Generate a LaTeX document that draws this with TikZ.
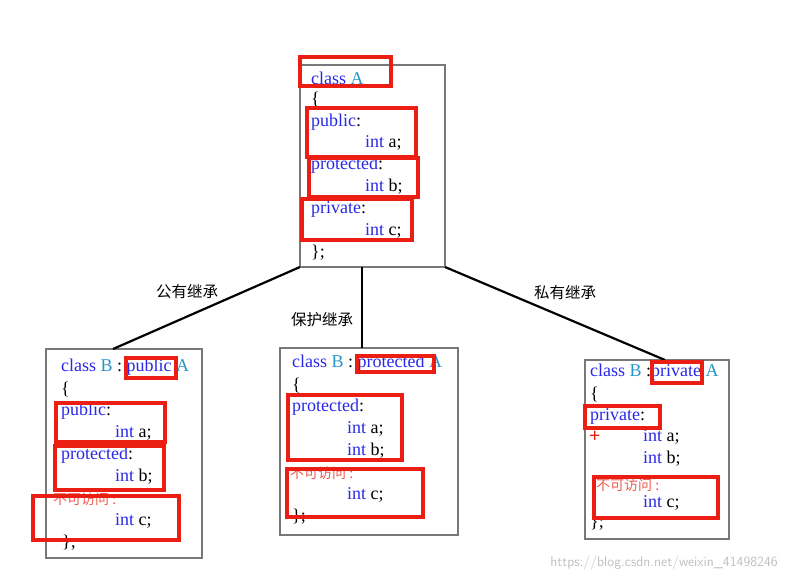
\documentclass[tikz,border=0pt]{standalone}
\usepackage{fontspec}
\setmainfont{Liberation Serif}
\newfontfamily\cjk{Noto Sans CJK SC}
\definecolor{kw}{RGB}{40,40,230}
\definecolor{tl}{RGB}{40,150,200}
\definecolor{rb}{RGB}{235,30,20}
\definecolor{rt}{RGB}{240,90,80}
\definecolor{gb}{RGB}{120,120,120}
\newcommand{\kw}[1]{\textcolor{kw}{#1}}
\newcommand{\tl}[1]{\textcolor{tl}{#1}}
\begin{document}
\begin{tikzpicture}[x=1pt,y=-1pt,
  cls/.style={draw=gb,line width=1.4pt},
  rbox/.style={draw=rb,line width=3.4pt},
  code/.style={anchor=west,inner sep=0pt,font=\fontsize{18}{18}\selectfont,text=black},
  lab/.style={font=\cjk\fontsize{15.5}{15.5}\selectfont,inner sep=1pt},
  red/.style={anchor=west,inner sep=0pt,font=\cjk\fontsize{14}{14}\selectfont,text=rt},
  link/.style={draw=black,line width=2.2pt}]
\useasboundingbox (0,0) rectangle (786,581);
% boxes
\draw[cls] (300,65) rectangle (445,267);
\draw[cls] (46,349) rectangle (202,558);
\draw[cls] (280,348) rectangle (458,535);
\draw[cls] (585,360) rectangle (729,539);
\coordinate (a1) at (300,267); \coordinate (a2) at (362,267); \coordinate (a3) at (445,267);
\coordinate (b1) at (113,349); \coordinate (b2) at (362,348); \coordinate (b3) at (665,360);
\draw[link] (a1) -- (b1);
\draw[link] (a2) -- (b2);
\draw[link] (a3) -- (b3);
\node[lab] (l1) at (187,292) {公有继承};
\node[lab] (l2) at (322,320) {保护继承};
\node[lab] (l3) at (565,293) {私有继承};
% class A
\node[code] (t1) at (311,78) {\kw{class} \tl{A}};
\node[code] (t2) at (311,99) {\{};
\node[code] (t3) at (311,122) {\kw{public}:};
\node[code] (t4) at (365,143) {\kw{int} a;};
\node[code] (t5) at (311,165) {\kw{protected}:};
\node[code] (t6) at (365,187) {\kw{int} b;};
\node[code] (t7) at (311,209) {\kw{private}:};
\node[code] (t8) at (365,231) {\kw{int} c;};
\node[code] (t9) at (311,253) {\};};
\draw[rbox] (300,57) rectangle (391,86);
\draw[rbox] (307,108) rectangle (416,157);
\draw[rbox] (309,158) rectangle (418,197);
\draw[rbox] (302,199) rectangle (412,240);
% B public
\node[code] (p1) at (61,367) {\kw{class} \tl{B} : \kw{public} \tl{A}};
\node[code] (p2) at (61,389) {\{};
\node[code] (p3) at (61,411) {\kw{public}:};
\node[code] (p4) at (115,433) {\kw{int} a;};
\node[code] (p5) at (61,455) {\kw{protected}:};
\node[code] (p6) at (115,477) {\kw{int} b;};
\node[red] (p7) at (53,499) {不可访问 :};
\node[code] (p8) at (115,521) {\kw{int} c;};
\node[code] (p9) at (62,543) {\};};
\draw[rbox] (126,358) rectangle (176,378);
\draw[rbox] (56,403) rectangle (165,442);
\draw[rbox] (55,446) rectangle (164,490);
\draw[rbox] (33,496) rectangle (179,540);
% B protected
\node[code] (q1) at (292,363) {\kw{class} \tl{B} : \kw{protected} \tl{A}};
\node[code] (q2) at (292,385) {\{};
\node[code] (q3) at (292,407) {\kw{protected}:};
\node[code] (q4) at (347,429) {\kw{int} a;};
\node[code] (q5) at (347,451) {\kw{int} b;};
\node[red] (q6) at (290,473) {不可访问 :};
\node[code] (q7) at (347,495) {\kw{int} c;};
\node[code] (q8) at (292,517) {\};};
\draw[rbox] (357,356) rectangle (434,372);
\draw[rbox] (288,395) rectangle (402,460);
\draw[rbox] (287,469) rectangle (423,517);
% B private
\node[code] (r1) at (590,372) {\kw{class} \tl{B} :\kw{private} \tl{A}};
\node[code] (r2) at (590,394) {\{};
\node[code] (r3) at (590,416) {\kw{private}:};
\node[anchor=west,inner sep=0pt,text=rb,font=\bfseries\fontsize{20}{20}\selectfont] (rp) at (589,437) {+};
\node[code] (r4) at (643,437) {\kw{int} a;};
\node[code] (r5) at (643,459) {\kw{int} b;};
\node[red] (r6) at (596,485) {不可访问 :};
\node[code] (r7) at (643,503) {\kw{int} c;};
\node[code] (r8) at (590,523) {\};};
\draw[rbox] (652,362) rectangle (702,383);
\draw[rbox] (585,406) rectangle (660,428);
\draw[rbox] (594,477) rectangle (718,518);
\node[anchor=east,inner sep=0pt,text=black!25,font=\fontsize{14}{14}\selectfont\sffamily] (wm) at (778,563) {https://blog.csdn.net/weixin\_41498246};
\end{tikzpicture}
\end{document}
